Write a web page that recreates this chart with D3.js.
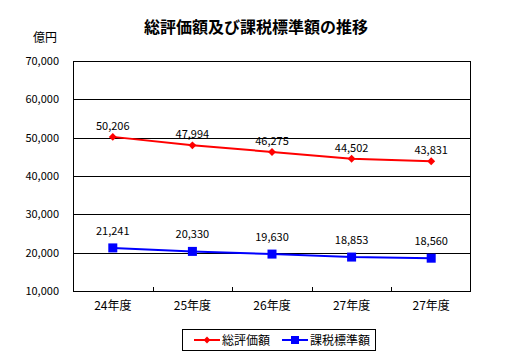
<!DOCTYPE html>
<html><head><meta charset="utf-8">
<script src="https://cdn.jsdelivr.net/npm/d3@7"></script>
<style>
html,body{margin:0;padding:0;background:#fff;}
text{font-family:"Noto Sans CJK JP","DejaVu Sans",sans-serif;}
</style></head>
<body><svg id="c" width="531" height="357"></svg>
<script>
const categories = ["24年度","25年度","26年度","27年度","27年度"];
const totalValues = [50206,47994,46275,44502,43831];
const taxValues = [21241,20330,19630,18853,18560];
const seriesNames = ["総評価額","課税標準額"];
const yTicks = [10000,20000,30000,40000,50000,60000,70000];
const title = "総評価額及び課税標準額の推移";
const unit = "億円";

const svg = d3.select("#c");
const L=73, R=471, T=61, B=291;
const x = d3.scaleBand().domain(d3.range(categories.length)).range([L,R]);
const y = d3.scaleLinear().domain([10000,70000]).range([B,T]);
const fmt = d3.format(",");

svg.append("text").attr("x",256).attr("y",33).attr("text-anchor","middle")
  .attr("font-size",16).attr("font-weight","bold").text(title);
svg.append("text").attr("x",33).attr("y",42).attr("font-size",12).text(unit);

// grid
svg.append("g").selectAll("line").data(yTicks.slice(1,-1)).join("line")
  .attr("x1",L).attr("x2",R).attr("y1",d=>Math.round(y(d))+0.5).attr("y2",d=>Math.round(y(d))+0.5)
  .attr("stroke","#000").attr("stroke-width",1);
svg.append("rect").attr("x",L+0.5).attr("y",T+0.5).attr("width",R-L-1).attr("height",B-T)
  .attr("fill","none").attr("stroke","#000");

// y labels
svg.append("g").selectAll("text").data(yTicks).join("text")
  .attr("x",59).attr("y",d=>y(d)+4).attr("text-anchor","end").attr("font-size",11)
  .text(d=>fmt(d));

// x ticks inside
svg.append("g").selectAll("line").data(d3.range(1,categories.length)).join("line")
  .attr("x1",i=>Math.round(x(i))+0.5).attr("x2",i=>Math.round(x(i))+0.5)
  .attr("y1",B-4).attr("y2",B).attr("stroke","#000");
svg.append("g").selectAll("text").data(categories).join("text")
  .attr("x",(d,i)=>x(i)+x.bandwidth()/2).attr("y",310).attr("text-anchor","middle")
  .attr("font-size",12).text(d=>d);

const cx = i=>x(i)+x.bandwidth()/2;
const line = d3.line().x((d,i)=>cx(i)).y(d=>y(d));

// red series
svg.append("path").datum(totalValues).attr("d",line).attr("fill","none")
  .attr("stroke","#ff0000").attr("stroke-width",2);
svg.append("g").selectAll("path").data(totalValues).join("path")
  .attr("d",d3.symbol(d3.symbolDiamond2,40)())
  .attr("transform",(d,i)=>`translate(${cx(i)},${y(d)})`).attr("fill","#ff0000");
svg.append("g").selectAll("text").data(totalValues).join("text")
  .attr("x",(d,i)=>cx(i)).attr("y",d=>y(d)-7).attr("text-anchor","middle")
  .attr("font-size",11).text(d=>fmt(d));

// blue series
svg.append("path").datum(taxValues).attr("d",line).attr("fill","none")
  .attr("stroke","#0000ff").attr("stroke-width",2);
svg.append("g").selectAll("rect").data(taxValues).join("rect")
  .attr("x",(d,i)=>cx(i)-4.5).attr("y",d=>y(d)-4.5).attr("width",9).attr("height",9)
  .attr("fill","#0000ff");
svg.append("g").selectAll("text").data(taxValues).join("text")
  .attr("x",(d,i)=>cx(i)).attr("y",d=>y(d)-13).attr("text-anchor","middle")
  .attr("font-size",11).text(d=>fmt(d));

// legend
const lg = svg.append("g");
lg.append("rect").attr("x",182.5).attr("y",329.5).attr("width",193).attr("height",21)
  .attr("fill","#fff").attr("stroke","#000");
lg.append("line").attr("x1",194).attr("x2",220).attr("y1",340).attr("y2",340)
  .attr("stroke","#ff0000").attr("stroke-width",2);
lg.append("path").attr("d",d3.symbol(d3.symbolDiamond2,30)()).attr("transform","translate(207,340)")
  .attr("fill","#ff0000");
lg.append("text").attr("x",222).attr("y",345).attr("font-size",12).text(seriesNames[0]);
lg.append("line").attr("x1",282).attr("x2",308).attr("y1",340).attr("y2",340)
  .attr("stroke","#0000ff").attr("stroke-width",2);
lg.append("rect").attr("x",291).attr("y",336).attr("width",8).attr("height",8).attr("fill","#0000ff");
lg.append("text").attr("x",310).attr("y",345).attr("font-size",12).text(seriesNames[1]);
</script></body></html>
